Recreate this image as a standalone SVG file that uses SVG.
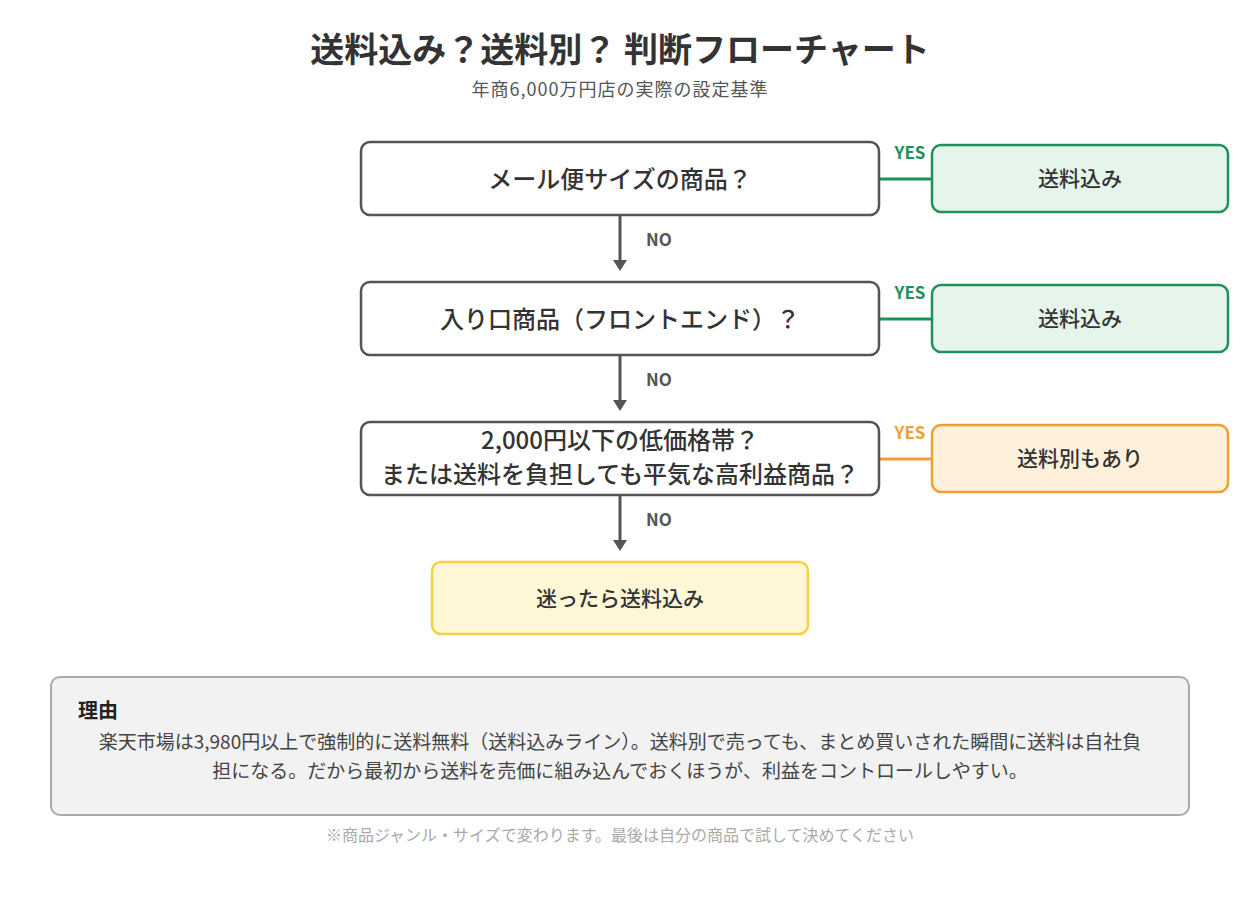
<svg xmlns="http://www.w3.org/2000/svg" width="1240" height="900" viewBox="0 0 1240 900">
<defs>
<style>
text{font-family:"Noto Sans CJK JP","Noto Sans",sans-serif;text-anchor:middle}
.q{fill:#fff;stroke:#555;stroke-width:2.5}
.g{fill:#e6f5ec;stroke:#1e9158;stroke-width:2.5}
.o{fill:#fff0dc;stroke:#f0a030;stroke-width:2.5}
.y{fill:#fff7d6;stroke:#f5d040;stroke-width:2.5}
.t{font-size:24px;fill:#333;font-weight:500}
.a{font-size:21px;fill:#333;font-weight:500}
.lbl{font-family:"Liberation Sans",Arial,sans-serif;font-weight:bold;font-size:17px}
</style>
</defs>
<rect width="1240" height="900" fill="#fff"/>
<text x="620" y="62" font-size="34" font-weight="bold" fill="#333">送料込み？送料別？ 判断フローチャート</text>
<text x="620" y="96" font-size="18" fill="#555" letter-spacing="1">年商6,000万円店の実際の設定基準</text>
<g id="connectors" stroke-width="3" fill="none">
<path d="M620,215 V262" stroke="#555"/><path d="M613,260 L627,260 L620,271 z" fill="#555" stroke="none"/>
<path d="M620,355 V402" stroke="#555"/><path d="M613,400 L627,400 L620,411 z" fill="#555" stroke="none"/>
<path d="M620,495 V542" stroke="#555"/><path d="M613,540 L627,540 L620,551 z" fill="#555" stroke="none"/>
<path d="M879,179 H932" stroke="#1e9158"/>
<path d="M879,319 H932" stroke="#1e9158"/>
<path d="M879,459 H932" stroke="#f0a030"/>
</g>
<g class="lbl">
<text x="659" y="246" fill="#555">NO</text>
<text x="659" y="386" fill="#555">NO</text>
<text x="659" y="526" fill="#555">NO</text>
<text x="910" y="159" fill="#1e9158">YES</text>
<text x="910" y="299" fill="#1e9158">YES</text>
<text x="910" y="439" fill="#f0a030">YES</text>
</g>
<g id="q1"><rect class="q" x="361" y="142" width="518" height="73" rx="9"/><text class="t" x="620" y="188">メール便サイズの商品？</text></g>
<g id="q2"><rect class="q" x="361" y="282" width="518" height="73" rx="9"/><text class="t" x="620" y="328">入り口商品（フロントエンド）？</text></g>
<g id="q3"><rect class="q" x="361" y="422" width="518" height="73" rx="9"/><text class="t" x="620" y="449">2,000円以下の低価格帯？</text><text class="t" x="620" y="483">または送料を負担しても平気な高利益商品？</text></g>
<g id="a1"><rect class="g" x="932" y="145" width="296" height="67" rx="9"/><text class="a" x="1080" y="186">送料込み</text></g>
<g id="a2"><rect class="g" x="932" y="285" width="296" height="67" rx="9"/><text class="a" x="1080" y="326">送料込み</text></g>
<g id="a3"><rect class="o" x="932" y="425" width="296" height="67" rx="9"/><text class="a" x="1080" y="466">送料別もあり</text></g>
<g id="final"><rect class="y" x="432" y="562" width="376" height="72" rx="9"/><text class="a" x="620" y="606" font-size="22">迷ったら送料込み</text></g>
<g id="reason">
<rect x="51" y="677" width="1138" height="138" rx="9" fill="#f2f2f2" stroke="#aaa" stroke-width="2"/>
<text x="78" y="718" font-size="20" font-weight="bold" fill="#222" style="text-anchor:start">理由</text>
<text x="620" y="749" font-size="19" fill="#444">楽天市場は3,980円以上で強制的に送料無料（送料込みライン）。送料別で売っても、まとめ買いされた瞬間に送料は自社負</text>
<text x="620" y="778" font-size="19" fill="#444">担になる。だから最初から送料を売価に組み込んでおくほうが、利益をコントロールしやすい。</text>
</g>
<text x="620" y="841" font-size="16" fill="#aaa">※商品ジャンル・サイズで変わります。最後は自分の商品で試して決めてください</text>
</svg>
